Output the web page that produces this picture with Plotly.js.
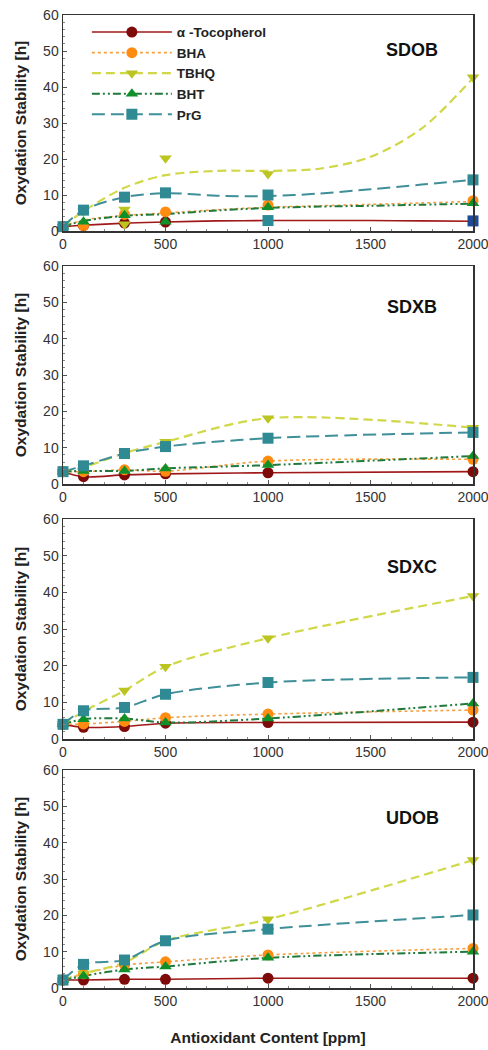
<!DOCTYPE html>
<html><head><meta charset="utf-8">
<script src="https://cdn.plot.ly/plotly-3.0.1.min.js"></script>
<style>html,body{margin:0;padding:0;background:#fff}#chart{width:488px;height:1050px}</style>
</head><body><div id="chart"></div>
<script>
// ---- data ----
const seriesNames = ['\u03b1 -Tocopherol', 'BHA', 'TBHQ', 'BHT', 'PrG'];
const panelNames = ['SDOB', 'SDXB', 'SDXC', 'UDOB'];
const xTicks = [0, 500, 1000, 1500, 2000];
const yTicks = [0, 10, 20, 30, 40, 50, 60];
const conc = [0, 100, 300, 500, 1000, 2000];

// SDOB measured points
const sdobToco = [1.2, 1.5, 2.2, 2.5, 2.9, 2.8];
const sdobBHA  = [1.2, 1.5, 4.6, 5.3, 7.2, 8.4];
const sdobTBHQx = [0, 100, 300, 300, 500, 1000, 2000];
const sdobTBHQ = [1.2, 5.5, 6.0, 1.9, 20.2, 15.8, 42.7];
const sdobBHT  = [1.2, 2.6, 4.4, 2.6, 6.6, 7.7];
const sdobPrG  = [1.2, 5.8, 9.4, 10.6, 10.0, 14.2];
// SDOB fitted trend curves
const fitX = [0, 100, 300, 500, 750, 1000, 1250, 1500, 1750, 2000];
const sdobTocoFit = [1.2, 1.6, 2.2, 2.5, 2.8, 2.9, 2.9, 2.9, 2.8, 2.7];
const sdobBHAFit  = [1.2, 3.0, 4.3, 5.0, 5.9, 6.6, 7.0, 7.4, 7.8, 8.2];
const sdobTBHQFit = [1.2, 5.5, 12.0, 15.5, 16.7, 16.7, 17.3, 20.6, 28.5, 42.5];
const sdobBHTFit  = [1.2, 2.8, 4.2, 4.7, 5.7, 6.4, 6.8, 7.0, 7.3, 7.6];
const sdobPrGFit  = [1.2, 5.8, 9.4, 10.5, 9.8, 9.7, 10.4, 11.6, 12.9, 14.2];

// SDXB
const sdxbToco = [3.4, 2.0, 2.5, 2.8, 3.1, 3.4];
const sdxbBHA  = [3.4, 3.4, 3.9, 3.5, 6.3, 6.8];
const sdxbTBHQ = [3.4, 4.6, 8.5, 11.6, 18.1, 15.5];
const sdxbBHT  = [3.4, 3.6, 3.6, 4.3, 5.2, 7.7];
const sdxbPrG  = [3.4, 5.0, 8.4, 10.3, 12.6, 14.2];

// SDXC
const sdxcToco = [4.0, 3.2, 3.4, 4.3, 4.5, 4.6];
const sdxcBHA  = [4.0, 4.1, 4.8, 5.8, 6.8, 7.9];
const sdxcTBHQ = [4.0, 7.5, 13.2, 19.7, 27.5, 39.0];
const sdxcBHT  = [4.0, 5.4, 5.6, 4.5, 5.6, 9.7];
const sdxcPrG  = [4.0, 7.7, 8.6, 12.2, 15.4, 16.8];

// UDOB
const udobToco = [2.2, 2.2, 2.4, 2.4, 2.7, 2.7];
const udobBHA  = [2.2, 3.9, 6.3, 7.2, 9.1, 10.9];
const udobTBHQ = [2.2, 4.0, 7.0, 13.0, 18.9, 35.2];
const udobBHT  = [2.2, 3.3, 5.1, 5.9, 8.3, 10.0];
const udobPrG  = [2.2, 6.5, 7.7, 13.0, 16.2, 20.1];

// ---- styles ----
const styles = [
  {line: '#a01818', marker: '#7e0a0a', dash: 'solid', sym: 'circle', w: 1.6},
  {line: '#f5a040', marker: '#ff8c10', dash: 'dot', sym: 'circle', w: 1.6},
  {line: '#d0d848', marker: '#bcc420', dash: '9px,5px', sym: 'triangle-down', w: 2.2},
  {line: '#1f7a3c', marker: '#109028', dash: '8px,3px,2px,3px,2px,3px', sym: 'triangle-up', w: 2},
  {line: '#3f8f98', marker: '#2f8a94', dash: '13px,6px', sym: 'square', w: 2}
];

const panels = [
  {marks: [[conc, sdobToco], [conc, sdobBHA], [sdobTBHQx, sdobTBHQ], [conc, sdobBHT], [conc, sdobPrG]],
   lines: [[fitX, sdobTocoFit], [fitX, sdobBHAFit], [fitX, sdobTBHQFit], [fitX, sdobBHTFit], [fitX, sdobPrGFit]]},
  {marks: [[conc, sdxbToco], [conc, sdxbBHA], [conc, sdxbTBHQ], [conc, sdxbBHT], [conc, sdxbPrG]]},
  {marks: [[conc, sdxcToco], [conc, sdxcBHA], [conc, sdxcTBHQ], [conc, sdxcBHT], [conc, sdxcPrG]]},
  {marks: [[conc, udobToco], [conc, udobBHA], [conc, udobTBHQ], [conc, udobBHT], [conc, udobPrG]]}
];

const W = 488, H = 1050;
const plotLeft = 63, plotRight = 473;
const boxes = [[15, 231], [266, 484], [519, 739], [770, 988]];
const labelPos = [[0.851, 0.838], [0.852, 0.813], [0.852, 0.78], [0.852, 0.78]];

const traces = [];
const layout = {
  width: W, height: H, margin: {l: 0, r: 0, t: 0, b: 0},
  paper_bgcolor: '#fff', plot_bgcolor: '#fff', showlegend: true,
  font: {family: 'Liberation Sans, Arial, sans-serif', color: '#333'},
  legend: {x: 0.178, y: 0.984, xanchor: 'left', yanchor: 'top', bgcolor: 'rgba(0,0,0,0)',
    font: {size: 13.5, weight: 'bold', color: '#222'}, itemwidth: 80, tracegroupgap: 0},
  annotations: []
};

panels.forEach((p, i) => {
  const xa = i === 0 ? 'x' : 'x' + (i + 1);
  const ya = i === 0 ? 'y' : 'y' + (i + 1);
  styles.forEach((s, k) => {
    const ln = p.lines ? p.lines[k] : p.marks[k];
    traces.push({x: ln[0], y: ln[1], xaxis: xa, yaxis: ya, mode: 'lines', showlegend: false,
      line: {color: s.line, width: s.w, dash: s.dash, shape: 'spline', smoothing: 0.9}, hoverinfo: 'skip'});
  });
  styles.forEach((s, k) => {
    const mk = p.marks[k];
    let sym = s.sym, col = s.marker;
    if (i === 0 && k === 0) {
      sym = ['circle', 'circle', 'circle', 'circle', 'square', 'square'];
      col = [s.marker, s.marker, s.marker, s.marker, '#2a8a96', '#1f4a98'];
    }
    traces.push({x: mk[0], y: mk[1], xaxis: xa, yaxis: ya, mode: 'markers', showlegend: false,
      cliponaxis: false,
      marker: {symbol: sym, color: col, size: 11}});
  });
  const bx = boxes[i];
  layout[i === 0 ? 'xaxis' : 'xaxis' + (i + 1)] = {
    domain: [plotLeft / W, plotRight / W], anchor: ya, range: [0, 2000], tickvals: xTicks,
    showline: true, mirror: true, linecolor: '#333', linewidth: 1.5, zeroline: false, showgrid: false,
    ticks: 'inside', ticklen: 4, tickcolor: '#555', tickfont: {size: 14, color: '#333'},
    ticklabeloverflow: 'allow',
    minor: {ticks: 'inside', ticklen: 2, dtick: 100, tickcolor: '#888'},
    title: i === 3 ? {text: 'Antioxidant Content [ppm]', font: {size: 15.5, weight: 'bold', color: '#222'}, standoff: 24} : undefined
  };
  layout[i === 0 ? 'yaxis' : 'yaxis' + (i + 1)] = {
    domain: [(H - bx[1]) / H, (H - bx[0]) / H], anchor: xa, range: [0, 60], tickvals: yTicks,
    showline: true, mirror: true, linecolor: '#333', linewidth: 1.5, zeroline: false, showgrid: false,
    ticks: 'inside', ticklen: 4, tickcolor: '#555', tickfont: {size: 14, color: '#333'},
    ticklabeloverflow: 'allow',
    minor: {ticks: 'inside', ticklen: 2, dtick: 2, tickcolor: '#888'},
    title: {text: 'Oxydation Stability [h]', font: {size: 15.5, weight: 'bold', color: '#222'}, standoff: 12}
  };
  layout.annotations.push({text: panelNames[i], xref: xa + ' domain', yref: ya + ' domain',
    x: labelPos[i][0], y: labelPos[i][1], showarrow: false, xanchor: 'center', yanchor: 'middle',
    font: {size: 18, weight: 'bold', color: '#111'}});
});

// legend entries (panel 1 style samples)
styles.forEach((s, k) => {
  traces.push({x: [null], y: [null], xaxis: 'x', yaxis: 'y', mode: 'lines+markers', name: seriesNames[k],
    showlegend: true, line: {color: s.line, width: s.w, dash: s.dash}, marker: {symbol: s.sym, color: s.marker, size: 11}});
});

Plotly.newPlot('chart', traces, layout, {displayModeBar: false, staticPlot: true});
</script></body></html>
